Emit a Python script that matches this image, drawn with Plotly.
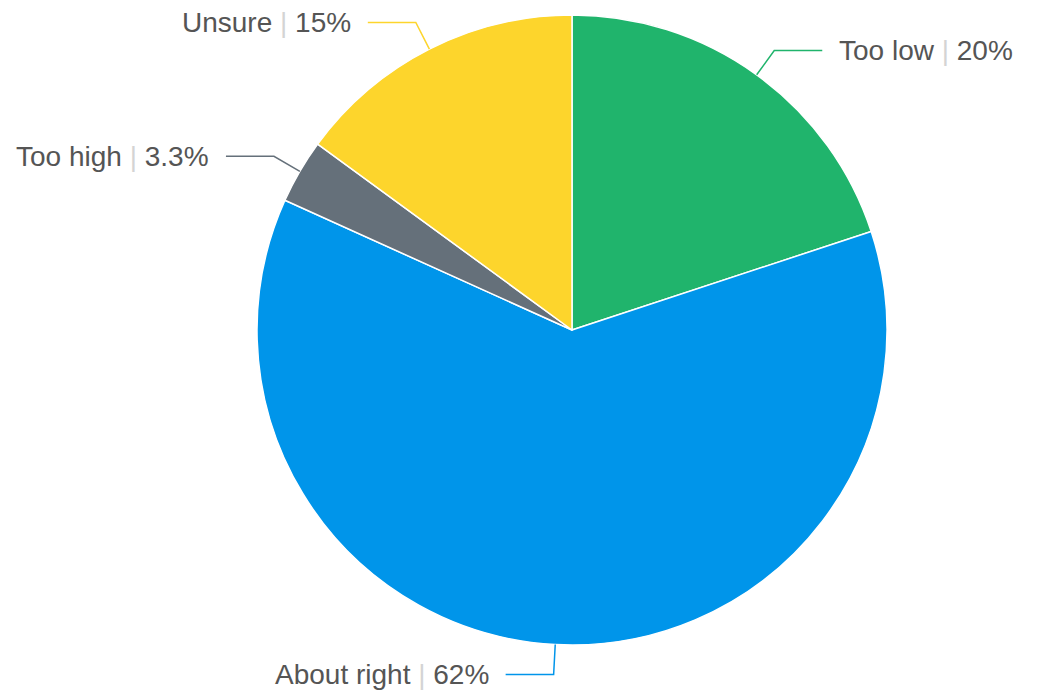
import math
import plotly.graph_objects as go

labels = ['Too low', 'About right', 'Too high', 'Unsure']
values = [20, 62, 3.3, 15]
colors = ['#20b46c', '#0095ea', '#65707a', '#fdd52c']

W, H = 1038, 699
# the page body adds an 8px margin, so the centre is shifted by that much
cx, cy, r = 564, 322, 315  # pie centre and radius in pixels

fig = go.Figure()
fig.add_trace(go.Pie(
    labels=labels, values=values, sort=False, direction='clockwise', rotation=0,
    marker=dict(colors=colors, line=dict(color='white', width=1.5)),
    textinfo='none', hoverinfo='label+percent', showlegend=False,
    domain=dict(x=[(cx - r) / W, (cx + r) / W], y=[(H - cy - r) / H, (H - cy + r) / H]),
))

# outside labels with elbow leader lines
total = sum(values)
cum = 0
shapes, annotations = [], []
for lab, v, col in zip(labels, values, colors):
    mid = (cum + v / 2) / total * 2 * math.pi
    cum += v
    sx, sy = math.sin(mid), -math.cos(mid)
    x0, y0 = cx + r * sx, cy + r * sy
    x1, y1 = cx + (r + 30) * sx, cy + (r + 30) * sy
    side = 1 if sx >= 0 else -1
    x2 = x1 + side * 48
    pts = [(x0, y0), (x1, y1), (x2, y1)]
    path = 'M ' + ' L '.join(f'{x / W:.5f},{1 - y / H:.5f}' for x, y in pts)
    shapes.append(dict(type='path', path=path, xref='paper', yref='paper',
                       line=dict(color=col, width=1.5)))
    annotations.append(dict(
        x=(x2 + side * 15) / W, y=1 - y1 / H, xref='paper', yref='paper',
        xanchor='left' if side > 0 else 'right', yanchor='middle', showarrow=False,
        text=f"{lab} <span style='color:#d4d4d4'>|</span> {v:g}%",
        font=dict(family='Liberation Sans, Arial', size=28, color='#555555'),
    ))

fig.update_layout(width=W, height=H, margin=dict(l=0, r=0, t=0, b=0),
                  paper_bgcolor='white', plot_bgcolor='white',
                  shapes=shapes, annotations=annotations)
fig.write_html('out.html')
